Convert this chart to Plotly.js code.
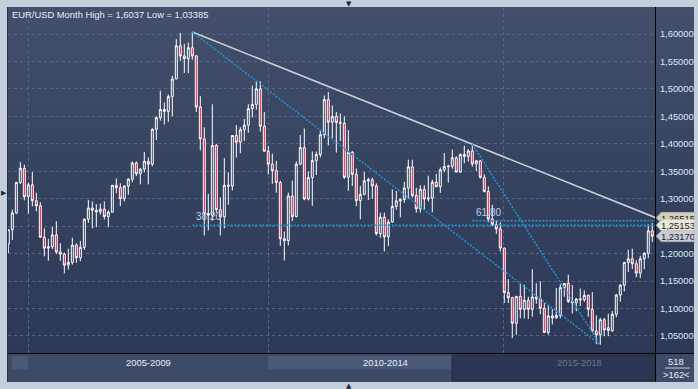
<!DOCTYPE html>
<html><head><meta charset="utf-8">
<script src="https://cdn.plot.ly/plotly-3.0.1.min.js"></script>
<style>
html,body{margin:0;padding:0;background:#c4cfdb;}
#wrap{position:relative;width:698px;height:389px;overflow:hidden;background:#c4cfdb;}
#panel{position:absolute;left:7px;top:7px;width:687px;height:375px;background:linear-gradient(to bottom,#434f6b 0%,#36435f 45%,#2c3856 92%,#2a3654 100%);}
#chart{position:absolute;left:0;top:0;width:698px;height:389px;}
</style></head><body>
<div id="wrap"><div id="panel"></div><div id="chart"></div></div>
<script>
// EUR/USD monthly candles, Sep 2004 .. Feb 2018 (162 visible bars)
const firstMonth = '2004-09';
const opens = [1.2176,1.2434,1.2740,1.3296,
 1.3554,1.3037,1.3253,1.2963,1.2871,1.2298,1.2100,1.2125,1.2340,1.2030,1.1990,1.1790,
 1.1840,1.2155,1.1925,1.2115,1.2625,1.2830,1.2790,1.2760,1.2810,1.2675,1.2755,1.3245,
 1.3200,1.3000,1.3230,1.3355,1.3650,1.3455,1.3540,1.3680,1.3630,1.4265,1.4475,1.4625,
 1.4590,1.4860,1.5180,1.5785,1.5600,1.5550,1.5750,1.5600,1.4670,1.4090,1.2730,1.2700,
 1.3970,1.2800,1.2670,1.3245,1.3230,1.4150,1.4030,1.4255,1.4340,1.4640,1.4720,1.5000,
 1.4320,1.3865,1.3630,1.3510,1.3295,1.2270,1.2235,1.3050,1.2675,1.3630,1.3930,1.2995,
 1.3385,1.3695,1.3805,1.4165,1.4805,1.4395,1.4500,1.4390,1.4375,1.3390,1.3845,1.3445,
 1.2965,1.3080,1.3325,1.3345,1.3235,1.2365,1.2665,1.2305,1.2575,1.2860,1.2960,1.2985,
 1.3195,1.3580,1.3060,1.2815,1.3170,1.2995,1.3010,1.3300,1.3220,1.3525,1.3585,1.3590,
 1.3745,1.3485,1.3805,1.3770,1.3870,1.3635,1.3690,1.3390,1.3130,1.2630,1.2525,1.2450,
 1.2100,1.1290,1.1195,1.0730,1.1220,1.0985,1.1150,1.0985,1.1210,1.1175,1.1005,1.0565,
 1.0865,1.0830,1.0875,1.1380,1.1455,1.1130,1.1105,1.1175,1.1160,1.1240,1.0985,1.0590,
 1.0520,1.0795,1.0650,1.0600,1.0895,1.1245,1.1425,1.1840,1.1905,1.1815,1.1645,1.1905,
 1.2005,1.2415];
const highs = [1.2440,1.2802,1.3306,1.3666,
 1.3620,1.3290,1.3485,1.3109,1.2935,1.2460,1.2270,1.2485,1.2590,1.2190,1.2020,1.2090,
 1.2290,1.2190,1.2230,1.2640,1.2980,1.2950,1.2900,1.2910,1.2950,1.2790,1.3250,1.3370,
 1.3280,1.3250,1.3370,1.3680,1.3680,1.3550,1.3850,1.3750,1.4280,1.4500,1.4970,1.4750,
 1.4900,1.5240,1.5905,1.6020,1.5820,1.5845,1.6037,1.5620,1.4867,1.4300,1.3090,1.4720,
 1.4000,1.3020,1.3740,1.3480,1.4160,1.4340,1.4305,1.4450,1.4720,1.5060,1.5144,1.5140,
 1.4580,1.3960,1.3820,1.3690,1.3330,1.2400,1.3110,1.3330,1.3680,1.4160,1.4280,1.3500,
 1.3860,1.3860,1.4250,1.4880,1.4940,1.4700,1.4580,1.4550,1.4500,1.4250,1.3870,1.3550,
 1.3235,1.3490,1.3385,1.3385,1.3280,1.2745,1.2750,1.2625,1.3170,1.3140,1.3010,1.3310,
 1.3710,1.3710,1.3200,1.3245,1.3245,1.3420,1.3345,1.3450,1.3570,1.3830,1.3620,1.3895,
 1.3775,1.3825,1.3965,1.3905,1.3993,1.3700,1.3700,1.3445,1.3225,1.2890,1.2600,1.2570,
 1.2110,1.1535,1.1215,1.1230,1.1465,1.1435,1.1215,1.1715,1.1460,1.1495,1.1100,1.1060,
 1.0990,1.1375,1.1440,1.1465,1.1615,1.1430,1.1185,1.1365,1.1330,1.1255,1.1300,1.0875,
 1.0830,1.0830,1.0905,1.0955,1.1265,1.1445,1.1845,1.2070,1.2090,1.1880,1.1960,1.2025,
 1.2537,1.2556];
const lows = [1.2010,1.2250,1.2720,1.3270,
 1.2970,1.2730,1.2860,1.2770,1.2290,1.1950,1.1870,1.2080,1.1990,1.1870,1.1640,1.1710,
 1.1800,1.1830,1.1860,1.2070,1.2560,1.2460,1.2480,1.2710,1.2620,1.2480,1.2750,1.3100,
 1.2865,1.2950,1.3070,1.3300,1.3410,1.3260,1.3480,1.3260,1.3590,1.4070,1.4420,1.4350,
 1.4400,1.4500,1.5180,1.5510,1.5290,1.5290,1.5530,1.4580,1.3880,1.2330,1.2420,1.2600,
 1.2745,1.2330,1.2460,1.2890,1.3150,1.3750,1.3830,1.4050,1.4200,1.4480,1.4620,1.4220,
 1.3860,1.3440,1.3270,1.3110,1.2140,1.1876,1.2150,1.2590,1.2660,1.3610,1.2970,1.2970,
 1.2870,1.3430,1.3750,1.4100,1.3970,1.4100,1.3840,1.4050,1.3360,1.3145,1.3230,1.2860,
 1.2625,1.3060,1.2975,1.2995,1.2330,1.2290,1.2040,1.2135,1.2560,1.2800,1.2660,1.2925,
 1.3000,1.3020,1.2745,1.2745,1.2795,1.2950,1.2755,1.3210,1.3105,1.3480,1.3295,1.3545,
 1.3480,1.3475,1.3645,1.3675,1.3585,1.3505,1.3365,1.3115,1.2570,1.2500,1.2360,1.2035,
 1.1100,1.1100,1.0460,1.0520,1.0820,1.0820,1.0810,1.0850,1.1085,1.0895,1.0560,1.0525,
 1.0710,1.0810,1.0820,1.1215,1.1100,1.0910,1.0950,1.1045,1.1120,1.0850,1.0565,1.0350,
 1.03385,1.0495,1.0495,1.0570,1.0840,1.1120,1.1310,1.1665,1.1720,1.1570,1.1555,1.1715,
 1.1915,1.2210];
const closes = [1.2434,1.2740,1.3296,1.3554,
 1.3037,1.3253,1.2963,1.2871,1.2298,1.2100,1.2125,1.2340,1.2030,1.1990,1.1790,1.1840,
 1.2155,1.1925,1.2115,1.2625,1.2830,1.2790,1.2760,1.2810,1.2675,1.2755,1.3245,1.3200,
 1.3000,1.3230,1.3355,1.3650,1.3455,1.3540,1.3680,1.3630,1.4265,1.4475,1.4625,1.4590,
 1.4860,1.5180,1.5785,1.5600,1.5550,1.5750,1.5600,1.4670,1.4090,1.2730,1.2700,1.3970,
 1.2800,1.2670,1.3245,1.3230,1.4150,1.4030,1.4255,1.4340,1.4640,1.4720,1.5000,1.4320,
 1.3865,1.3630,1.3510,1.3295,1.2270,1.2235,1.3050,1.2675,1.3630,1.3930,1.2995,1.3385,
 1.3695,1.3805,1.4165,1.4805,1.4395,1.4500,1.4390,1.4375,1.3390,1.3845,1.3445,1.2965,
 1.3080,1.3325,1.3345,1.3235,1.2365,1.2665,1.2305,1.2575,1.2860,1.2960,1.2985,1.3195,
 1.3580,1.3060,1.2815,1.3170,1.2995,1.3010,1.3300,1.3220,1.3525,1.3585,1.3590,1.3745,
 1.3485,1.3805,1.3770,1.3870,1.3635,1.3690,1.3390,1.3130,1.2630,1.2525,1.2450,1.2100,
 1.1290,1.1195,1.0730,1.1220,1.0985,1.1150,1.0985,1.1210,1.1175,1.1005,1.0565,1.0865,
 1.0830,1.0875,1.1380,1.1455,1.1130,1.1105,1.1175,1.1160,1.1240,1.0985,1.0590,1.0520,
 1.0795,1.0610,1.0600,1.0895,1.1245,1.1425,1.1840,1.1905,1.1815,1.1645,1.1905,1.2005,
 1.2415,1.2317];

const yTicks = [1.05,1.10,1.15,1.20,1.25,1.30,1.35,1.40,1.45,1.50,1.55,1.60];
const gridX = [5, 65, 123.75];
const navLabels = ['2005-2009','2010-2014','2015-2018'];
const totalBars = '518';
// swing points used by the drawing tools (bar indices)
const swingHigh1 = 46, swingHigh2 = 116, swingLow = 148;
const tagValues = [1.26515, 1.25153, 1.23170];

const idx = opens.map((_, i) => i);
const xStart = -0.08, xEnd = 161.68;

// pixel helpers for layout (paper) positions
const PL = 8, PR = 655, PT = 8, PB = 353;
const px = v => (v - PL) / (PR - PL);
const py = v => (PB - v) / (PB - PT);

const hiMax = Math.max(...highs), loMin = Math.min(...lows);
const comma = v => String(v).replace('.', ',');
const fib38 = loMin + 0.382 * (hiMax - loMin);
const fib62 = lows[swingLow] + 0.618 * (highs[swingHigh2] - lows[swingLow]);
const slope = (highs[swingHigh2] - highs[swingHigh1]) / (swingHigh2 - swingHigh1);
const trendEnd = highs[swingHigh1] + slope * (xEnd - swingHigh1);

const blue = '#1e96d6';
const traces = [
  {type:'candlestick', x: idx, open: opens, high: highs, low: lows, close: closes,
   increasing:{line:{color:'#ffffff', width:1}, fillcolor:'rgba(0,0,0,0)'},
   decreasing:{line:{color:'#ffffff', width:1}, fillcolor:'#e3113f'},
   whiskerwidth:0, hoverinfo:'skip', showlegend:false},
  {type:'scatter', mode:'lines', x:[swingHigh1, xEnd], y:[highs[swingHigh1], trendEnd],
   line:{color:'#cdd0d6', width:1.6}, hoverinfo:'skip', showlegend:false},
  {type:'scatter', mode:'lines', x:[swingHigh1, swingLow], y:[highs[swingHigh1], lows[swingLow]],
   line:{color:blue, width:1.5, dash:'2px,1.5px'}, hoverinfo:'skip', showlegend:false},
  {type:'scatter', mode:'lines', x:[swingHigh2, swingLow], y:[highs[swingHigh2], lows[swingLow]],
   line:{color:blue, width:1.5, dash:'2px,1.5px'}, hoverinfo:'skip', showlegend:false},
  {type:'scatter', mode:'lines', x:[swingHigh1, xEnd], y:[fib38, fib38],
   line:{color:blue, width:1.5, dash:'2px,1.5px'}, hoverinfo:'skip', showlegend:false},
  {type:'scatter', mode:'lines', x:[swingHigh2, xEnd], y:[fib62, fib62],
   line:{color:blue, width:1.5, dash:'2px,1.5px'}, hoverinfo:'skip', showlegend:false}
];

const FONT = 'Liberation Sans, Arial, sans-serif';
const shapes = [
  // navigator band
  {type:'rect', xref:'paper', yref:'paper', x0:px(8), x1:px(655), y0:py(354), y1:py(382), fillcolor:'#3e4b67', line:{width:0}, layer:'below'},
  {type:'rect', xref:'paper', yref:'paper', x0:px(12), x1:px(28), y0:py(356), y1:py(369), fillcolor:'#4b5976', line:{width:0}, layer:'below'},
  {type:'rect', xref:'paper', yref:'paper', x0:px(268), x1:px(452), y0:py(356), y1:py(369), fillcolor:'#4b5977', line:{width:0}, layer:'below'},
  {type:'rect', xref:'paper', yref:'paper', x0:px(452), x1:px(655), y0:py(355), y1:py(381), fillcolor:'#2a3652', line:{color:'#222c42', width:1}, layer:'below'},
  {type:'rect', xref:'paper', yref:'paper', x0:px(656), x1:px(694), y0:py(354), y1:py(382), fillcolor:'#3e4b67', line:{width:0}, layer:'below'},
  {type:'line', xref:'paper', yref:'paper', x0:px(665), x1:px(690), y0:py(368), y1:py(368), line:{color:'#c8d0dc', width:1}},
  {type:'line', xref:'paper', yref:'paper', x0:px(8), x1:px(694), y0:py(353.5), y1:py(353.5), line:{color:'#000000', width:1}},
  {type:'line', xref:'paper', yref:'paper', x0:px(655.5), x1:px(655.5), y0:py(7), y1:py(382), line:{color:'#000000', width:1}},
  {type:'line', xref:'paper', yref:'paper', x0:px(7.5), x1:px(7.5), y0:py(7), y1:py(382), line:{color:'#27324a', width:1}}
];
const tagFill = ['#d2d0bb', '#e9e8d4', '#c9ccd1'];
const hd = 5.5 / 549;
tagValues.forEach((v, k) => {
  shapes.push({type:'path', xref:'paper', yref:'y',
    path:`M ${px(656)},${v} L ${px(661)},${v + hd} L ${px(694)},${v + hd} L ${px(694)},${v - hd} L ${px(661)},${v - hd} Z`,
    fillcolor: tagFill[k], line:{color:'#7d838e', width:1}});
});

const annotations = [
  {xref:'paper', yref:'paper', x:px(10), y:py(15), xanchor:'left', yanchor:'middle', showarrow:false,
   text:`EUR/USD Month High = ${comma(hiMax)} Low = ${comma(loMin)}`, font:{family:FONT, size:9.4, color:'#e6edf6'}},
  {xref:'paper', yref:'paper', x:px(148), y:py(363), xanchor:'center', yanchor:'middle', showarrow:false,
   text:navLabels[0], font:{family:FONT, size:9.4, color:'#e6eef8'}},
  {xref:'paper', yref:'paper', x:px(385), y:py(363), xanchor:'center', yanchor:'middle', showarrow:false,
   text:navLabels[1], font:{family:FONT, size:9.4, color:'#e6eef8'}},
  {xref:'paper', yref:'paper', x:px(579), y:py(363), xanchor:'center', yanchor:'middle', showarrow:false,
   text:navLabels[2], font:{family:FONT, size:9.4, color:'#69778f'}},
  {xref:'paper', yref:'paper', x:px(676), y:py(361.5), xanchor:'center', yanchor:'middle', showarrow:false,
   text:totalBars, font:{family:FONT, size:9.4, color:'#e6eef8'}},
  {xref:'paper', yref:'paper', x:px(676), y:py(374.5), xanchor:'center', yanchor:'middle', showarrow:false,
   text:'&gt;' + opens.length + '&lt;', font:{family:FONT, size:9.4, color:'#e6eef8'}},
  {xref:'x', yref:'y', x:swingHigh1 + 0.4, y:fib38, xanchor:'left', yanchor:'bottom', yshift:1, showarrow:false,
   text:'38.20', font:{family:FONT, size:10, color:'#bcd2ea'}},
  {xref:'x', yref:'y', x:swingHigh2 + 0.4, y:fib62, xanchor:'left', yanchor:'bottom', yshift:1, showarrow:false,
   text:'61.80', font:{family:FONT, size:10, color:'#bcd2ea'}},
  {xref:'paper', yref:'paper', x:px(349), y:py(3.5), xanchor:'center', yanchor:'middle', showarrow:false,
   text:'▼', font:{family:'DejaVu Sans', size:7, color:'#1b283d'}},
  {xref:'paper', yref:'paper', x:px(349), y:py(385.5), xanchor:'center', yanchor:'middle', showarrow:false,
   text:'▲', font:{family:'DejaVu Sans', size:7, color:'#1b283d'}},
  {xref:'paper', yref:'paper', x:px(3.5), y:py(193), xanchor:'center', yanchor:'middle', showarrow:false,
   text:'▶', font:{family:'DejaVu Sans', size:7, color:'#1b283d'}}
];
tagValues.forEach((v, k) => {
  annotations.push({xref:'paper', yref:'y', x:px(661), y:v, xanchor:'left', yanchor:'middle', showarrow:false,
    text: v.toFixed(5).replace('.', ','), width:32, height:10, align:'center', borderpad:0,
    bgcolor: tagFill[k], font:{family:FONT, size:9.4, color:'#1c2230'}});
});

const layout = {
  width:698, height:389,
  margin:{l:PL, r:698 - PR, t:PT, b:389 - PB, pad:0},
  paper_bgcolor:'rgba(0,0,0,0)', plot_bgcolor:'rgba(0,0,0,0)',
  separators:',.',
  showlegend:false, hovermode:false, dragmode:false,
  font:{family:FONT, size:9.4, color:'#dde7f4'},
  xaxis:{range:[xStart, xEnd], rangeslider:{visible:false}, tickvals:gridX, showticklabels:false,
    showgrid:true, gridcolor:'#56668a', griddash:'3px,3px', gridwidth:1, zeroline:false,
    showline:false, ticks:'', fixedrange:true},
  yaxis:{range:[1.01894, 1.64736], side:'right', tickvals:yTicks, tickformat:'.5f',
    showgrid:true, gridcolor:'#56668a', griddash:'3px,3px', gridwidth:1, zeroline:false,
    showline:false, ticks:'outside', ticklen:2, tickcolor:'rgba(0,0,0,0)',
    tickfont:{family:FONT, size:9.4, color:'#dde7f4'}, fixedrange:true},
  shapes: shapes,
  annotations: annotations
};
Plotly.newPlot('chart', traces, layout, {displayModeBar:false, staticPlot:true});
</script></body></html>
